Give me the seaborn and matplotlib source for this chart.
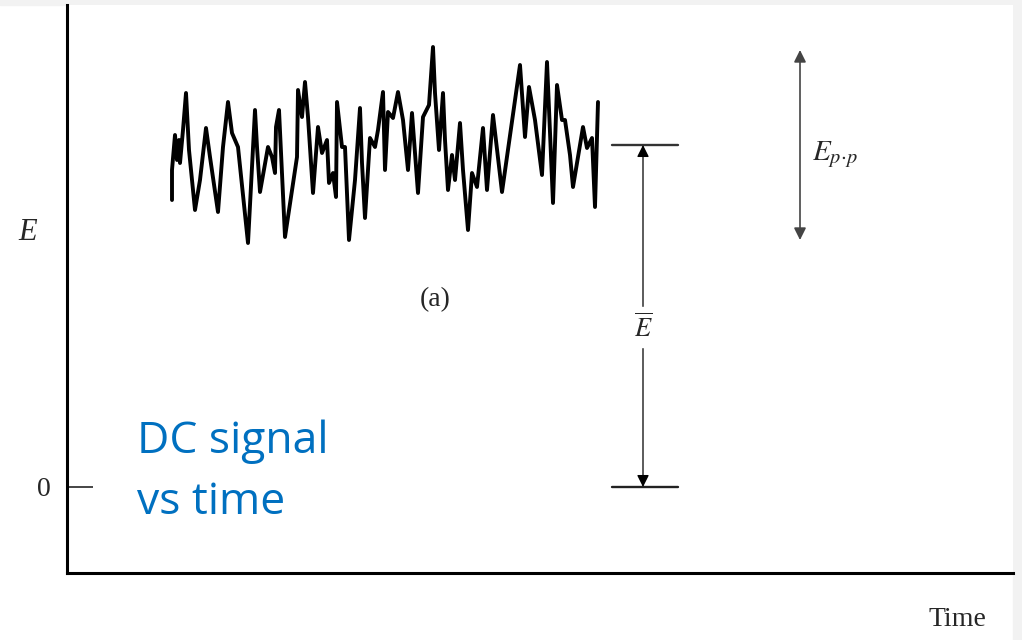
import numpy as np
import pandas as pd
import matplotlib
matplotlib.use('Agg')
import matplotlib.pyplot as plt
from matplotlib.patches import Rectangle
import seaborn as sns

# ==========================================
# Data (arbitrary units)
# ==========================================
time = [104, 104, 107, 109, 111, 112, 115, 118, 121, 127, 132, 138, 142, 150, 155, 160,
        164, 167, 170, 180, 187, 189, 192, 200, 204, 207, 208, 211, 217, 229, 230, 234,
        237, 240, 245, 250, 254, 259, 261, 265, 268, 269, 274, 277, 281, 287, 292, 294,
        297, 302, 307, 310, 315, 317, 320, 325, 330, 335, 340, 344, 350, 355, 361, 365,
        367, 371, 375, 377, 380, 384, 387, 392, 395, 400, 404, 409, 415, 419, 425, 434,
        452, 457, 461, 467, 474, 479, 485, 489, 494, 497, 502, 505, 515, 519, 524, 527,
        530]
signal = [287, 317, 352, 327, 347, 324, 357, 394, 337, 277, 307, 359, 330, 275, 340, 385,
          354, 347, 340, 244, 377, 340, 295, 340, 330, 314, 360, 377, 250, 330, 397, 370,
          405, 370, 294, 360, 334, 347, 304, 314, 290, 385, 340, 340, 247, 307, 379, 324,
          269, 349, 340, 357, 395, 317, 375, 369, 395, 367, 317, 374, 294, 370, 382, 440,
          394, 337, 394, 347, 297, 332, 307, 364, 317, 257, 314, 300, 359, 297, 372, 295,
          422, 350, 400, 367, 312, 425, 284, 402, 367, 367, 332, 300, 360, 339, 349, 280,
          385]
mean_level = 342          # E-bar
pp_low, pp_high = 247, 437  # E p-p arrow ends

df = pd.DataFrame({'time': time, 'E': signal})

# ==========================================
# Plot
# ==========================================
sns.set_style('ticks')
plt.rcParams['font.family'] = ['Liberation Serif', 'DejaVu Serif']
plt.rcParams['mathtext.fontset'] = 'stix'

fig = plt.figure(figsize=(10.22, 6.4), dpi=100)
ax = fig.add_axes([67 / 1022, 67 / 640, (1013 - 67) / 1022, (573 - 5) / 640])

sns.lineplot(data=df, x='time', y='E', color='black', linewidth=2.8, sort=False,
             estimator=None, ax=ax)

ax.set_xlim(-1, 945)
ax.set_ylim(-86, 482)

# mean level and zero reference bars
ax.plot([544, 610], [mean_level, mean_level], color='#333333', lw=1.7)
ax.plot([544, 610], [0, 0], color='#222222', lw=1.7)

# E-bar arrow
ax.annotate('', xy=(575, mean_level), xytext=(575, 0),
            arrowprops=dict(arrowstyle='<|-|>', color='black', lw=0.9,
                            mutation_scale=18, shrinkA=0, shrinkB=0))
ax.text(575, 160, r'$\overline{E}$', ha='center', va='center', fontsize=19,
        backgroundcolor='white')

# E p-p arrow
ax.annotate('', xy=(732, pp_high), xytext=(732, pp_low),
            arrowprops=dict(arrowstyle='<|-|>', color='#444444', lw=1.2,
                            mutation_scale=18, shrinkA=0, shrinkB=0))
ax.text(744, 332, r'$E_{p\!\cdot\! p}$', ha='left', va='center', fontsize=21)

ax.text(367, 187, '(a)', ha='center', va='center', fontsize=20)

# axes styling
sns.despine(ax=ax)
for s in ['left', 'bottom']:
    ax.spines[s].set_linewidth(2.2)
    ax.spines[s].set_color('black')
ax.set_xticks([])
ax.set_yticks([0])
ax.set_yticklabels(['0'], fontsize=20)
ax.tick_params(axis='y', direction='in', length=19, width=1.2, pad=12)
ax.set_xlabel('')
ax.set_ylabel('')

fig.text(28 / 1022, 1 - 232 / 640, 'E', fontsize=22, style='italic', ha='center', va='center')
fig.text(957 / 1022, 1 - 620 / 640, 'Time', fontsize=20, ha='center', va='center')
fig.text(137 / 1022, 1 - 472 / 640, 'DC signal\nvs time', fontsize=32, color='#0070C0',
         family=['Open Sans', 'DejaVu Sans'], ha='left', va='center', linespacing=1.5)

# slide border strips
fig.patches.append(Rectangle((1013 / 1022, 0), 9 / 1022, 1, transform=fig.transFigure,
                             color='#f2f2f2', zorder=-1))
fig.patches.append(Rectangle((0, 1 - 5 / 640), 1, 5 / 640, transform=fig.transFigure,
                             color='#f2f2f2', zorder=-1))

plt.savefig('out.png', dpi=100)
